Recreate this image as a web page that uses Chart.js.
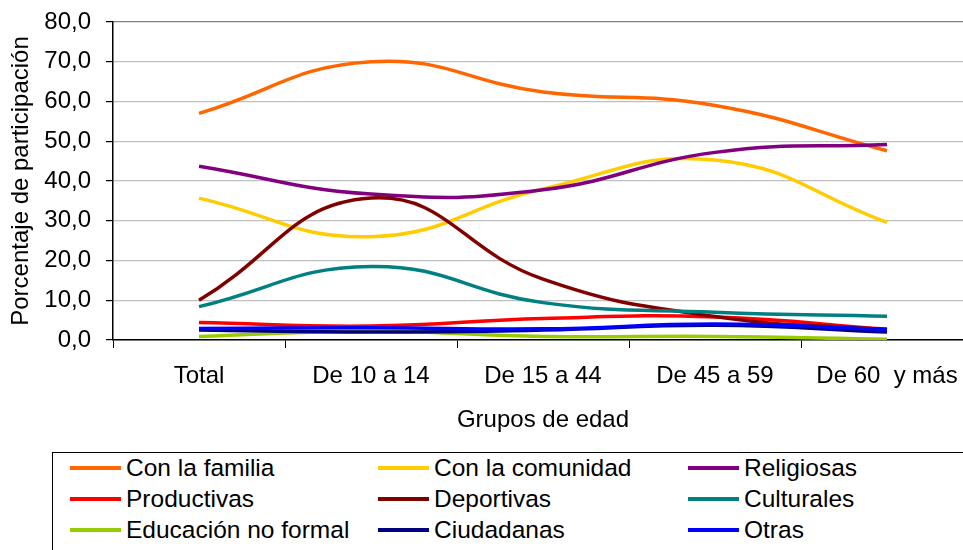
<!DOCTYPE html>
<html>
<head>
<meta charset="utf-8">
<script src="https://cdn.jsdelivr.net/npm/chart.js@4"></script>
<style>
  html, body { margin: 0; padding: 0; background: #fff; overflow: hidden; }
  #wrap { position: relative; width: 963px; height: 550px; overflow: hidden; }
  #box { position: absolute; left: 0; top: 0; width: 975px; height: 445px; }
  #legend {
    position: absolute; left: 52px; top: 452px; width: 960px; height: 120px;
    border: 1px solid #000; box-sizing: border-box;
    font-family: 'Liberation Sans', Arial, sans-serif; font-size: 24.5px; color: #000;
  }
  .item { position: absolute; height: 30px; display: flex; align-items: center; white-space: nowrap; }
  .item span.line { display: inline-block; width: 51px; height: 4px; margin-right: 5px; }
</style>
</head>
<body>
<div id="wrap">
  <div id="box"><canvas id="chart"></canvas></div>
  <div id="legend"></div>
</div>
<script>
// Categories and series
const categories = ['Total', 'De 10 a 14', 'De 15 a 44', 'De 45 a 59', 'De 60  y más'];
const conFamilia   = [57.0, 70.0, 62.4, 59.0, 47.6];
const conComunidad = [35.7, 26.0, 38.0, 45.3, 29.6];
const religiosas   = [43.7, 36.7, 37.8, 47.2, 49.2];
const productivas  = [4.4, 3.5, 5.4, 5.8, 2.7];
const deportivas   = [10.0, 35.7, 15.3, 5.9, 2.6];
const culturales   = [8.4, 18.5, 9.4, 7.0, 6.0];
const educacion    = [0.9, 2.2, 0.9, 0.9, 0.2];
const ciudadanas   = [2.5, 2.0, 2.5, 3.7, 2.0];
const otras        = [2.9, 3.1, 2.8, 4.0, 2.7];
const yTicks = [0, 10, 20, 30, 40, 50, 60, 70, 80];

const FONT = "'Liberation Sans', Arial, sans-serif";
const FSIZE = 24;

const series = [
  ['Con la familia', conFamilia, '#FF6600'],
  ['Con la comunidad', conComunidad, '#FFCC00'],
  ['Religiosas', religiosas, '#800080'],
  ['Productivas', productivas, '#FF0000'],
  ['Deportivas', deportivas, '#800000'],
  ['Culturales', culturales, '#008080'],
  ['Educación no formal', educacion, '#99CC00'],
  ['Ciudadanas', ciudadanas, '#000080'],
  ['Otras', otras, '#0000FF']
];

const datasets = series.map(([label, data, color], i) => ({
  label,
  data,
  borderColor: color,
  backgroundColor: color,
  borderWidth: 3.5,
  pointRadius: 0,
  tension: 0.45,
  fill: false,
  order: series.length - i // later series on top, like the original
}));

const ctx = document.getElementById('chart').getContext('2d');
const chart = new Chart(ctx, {
  type: 'line',
  data: { labels: categories, datasets },
  options: {
    responsive: true,
    maintainAspectRatio: false,
    animation: false,
    layout: { padding: { top: 22, right: 2, left: 0, bottom: 0 } },
    plugins: { legend: { display: false }, tooltip: { enabled: false } },
    scales: {
      x: {
        offset: true,
        grid: {
          offset: true,
          drawOnChartArea: false,
          tickLength: 8,
          tickColor: '#000'
        },
        border: { color: '#000', width: 1.5 },
        ticks: { color: '#000', font: { family: FONT, size: FSIZE }, padding: 14, maxRotation: 0, autoSkip: false },
        title: { display: true, text: 'Grupos de edad', color: '#000', font: { family: FONT, size: FSIZE }, padding: { top: 0, bottom: 10 } },
        afterFit: s => { s.height = 105; s.paddingLeft = 0; s.paddingRight = 0; }
      },
      y: {
        min: 0,
        max: 80,
        afterBuildTicks: s => { s.ticks = yTicks.map(v => ({ value: v })); },
        grid: {
          color: c => c.tick && c.tick.value === 80 ? '#808080' : '#C0C0C0',
          lineWidth: 1.2,
          tickLength: 7,
          tickColor: '#000'
        },
        border: { color: '#000', width: 1.5 },
        ticks: {
          color: '#000',
          font: { family: FONT, size: FSIZE },
          padding: 15,
          callback: v => v.toFixed(1).replace('.', ',')
        },
        title: { display: true, text: 'Porcentaje de participación', color: '#000', font: { family: FONT, size: FSIZE }, padding: { top: 7, bottom: 0 } },
        afterFit: s => { s.width = 113; s.paddingTop = 0; s.paddingBottom = 0; }
      }
    }
  }
});

// HTML legend built from the chart's datasets, 3 columns
const legend = document.getElementById('legend');
const colX = [17, 325, 635];
const rowY = [0, 31, 62];
chart.data.datasets.forEach((ds, i) => {
  const el = document.createElement('div');
  el.className = 'item';
  el.style.left = colX[i % 3] + 'px';
  el.style.top = rowY[Math.floor(i / 3)] + 'px';
  el.innerHTML = '<span class="line" style="background:' + ds.borderColor + '"></span>' + ds.label;
  legend.appendChild(el);
});
</script>
</body>
</html>
